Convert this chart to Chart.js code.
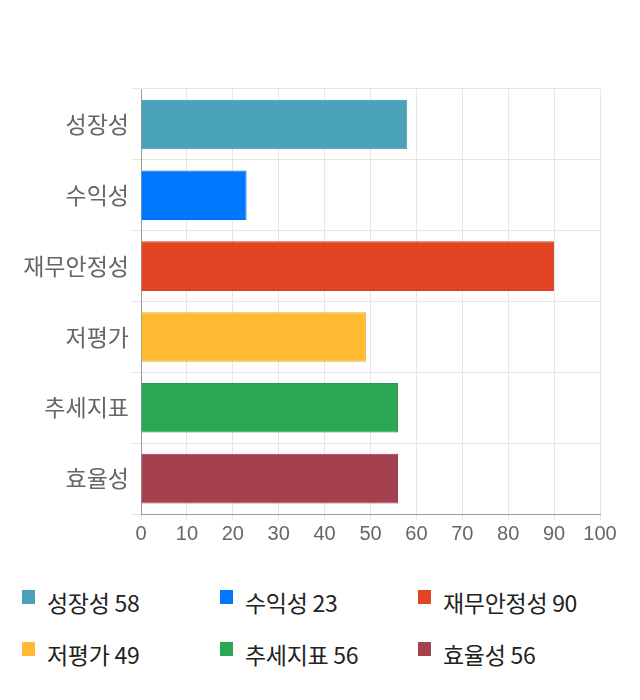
<!DOCTYPE html>
<html>
<head>
<meta charset="utf-8">
<script src="https://cdn.jsdelivr.net/npm/chart.js@4/dist/chart.umd.min.js"></script>
<style>
  body { margin: 0; background: #fff; font-family: "Noto Sans CJK KR", sans-serif; }
  #wrap { position: relative; width: 640px; height: 560px; }
  #legend { position: relative; width: 640px; height: 140px; }
  .item { position: absolute; font-size: 23px; color: #222; line-height: 26px; white-space: nowrap; letter-spacing: -0.3px; }
  .item span.box { position: absolute; left: -25px; top: 1px; width: 13px; height: 14px; }
</style>
</head>
<body>
<div id="wrap"><canvas id="barChart" width="640" height="560"></canvas></div>
<div id="legend"></div>
<script>
const categories = ['성장성', '수익성', '재무안정성', '저평가', '추세지표', '효율성']
const scores = [58, 23, 90, 49, 56, 56]
const barColors = ['#4aa1ba', '#0077ff', '#e24424', '#ffb933', '#2ba654', '#a5404e']
const borderColors = ['#4297ae', '#006fee', '#d83e20', '#f0ad2f', '#27994e', '#993a48']
const xTicks = [0, 10, 20, 30, 40, 50, 60, 70, 80, 90, 100]

var ctx = document.getElementById('barChart').getContext('2d')
var chart = new Chart(ctx, {
    type: 'bar',
    data: {
        labels: categories,
        datasets: [{
            data: scores,
            backgroundColor: barColors,
            borderColor: borderColors,
            borderWidth: 1,
            categoryPercentage: 1,
            barPercentage: 0.7
        }]
    },
    options: {
        indexAxis: 'y',
        responsive: false,
        animation: false,
        layout: { padding: { top: 89, right: 40, left: 18, bottom: 12 } },
        plugins: { legend: { display: false }, tooltip: { enabled: false } },
        scales: {
            x: {
                min: 0,
                max: 100,
                afterBuildTicks: axis => { axis.ticks = xTicks.map(v => ({ value: v })) },
                grid: { color: '#e6e6e6', tickLength: 6 },
                border: { color: '#999' },
                ticks: { color: '#666', font: { size: 20, family: 'Liberation Sans' }, padding: 2 }
            },
            y: {
                afterFit: axis => { axis.width = 123 },
                grid: { color: '#e6e6e6', offset: true, tickLength: 10 },
                border: { color: '#999' },
                ticks: { color: '#666', font: { size: 23, family: 'Noto Sans CJK KR' }, padding: 2 }
            }
        }
    }
})

// html legend, 3 per row
const legend = document.getElementById('legend')
categories.forEach((name, i) => {
    let item = document.createElement('div')
    item.className = 'item'
    item.style.left = (47 + (i % 3) * 198) + 'px'
    item.style.top = (29 + Math.floor(i / 3) * 52) + 'px'
    let box = document.createElement('span')
    box.className = 'box'
    box.style.background = barColors[i]
    item.appendChild(box)
    item.appendChild(document.createTextNode(name + ' ' + scores[i]))
    legend.appendChild(item)
})
</script>
</body>
</html>
